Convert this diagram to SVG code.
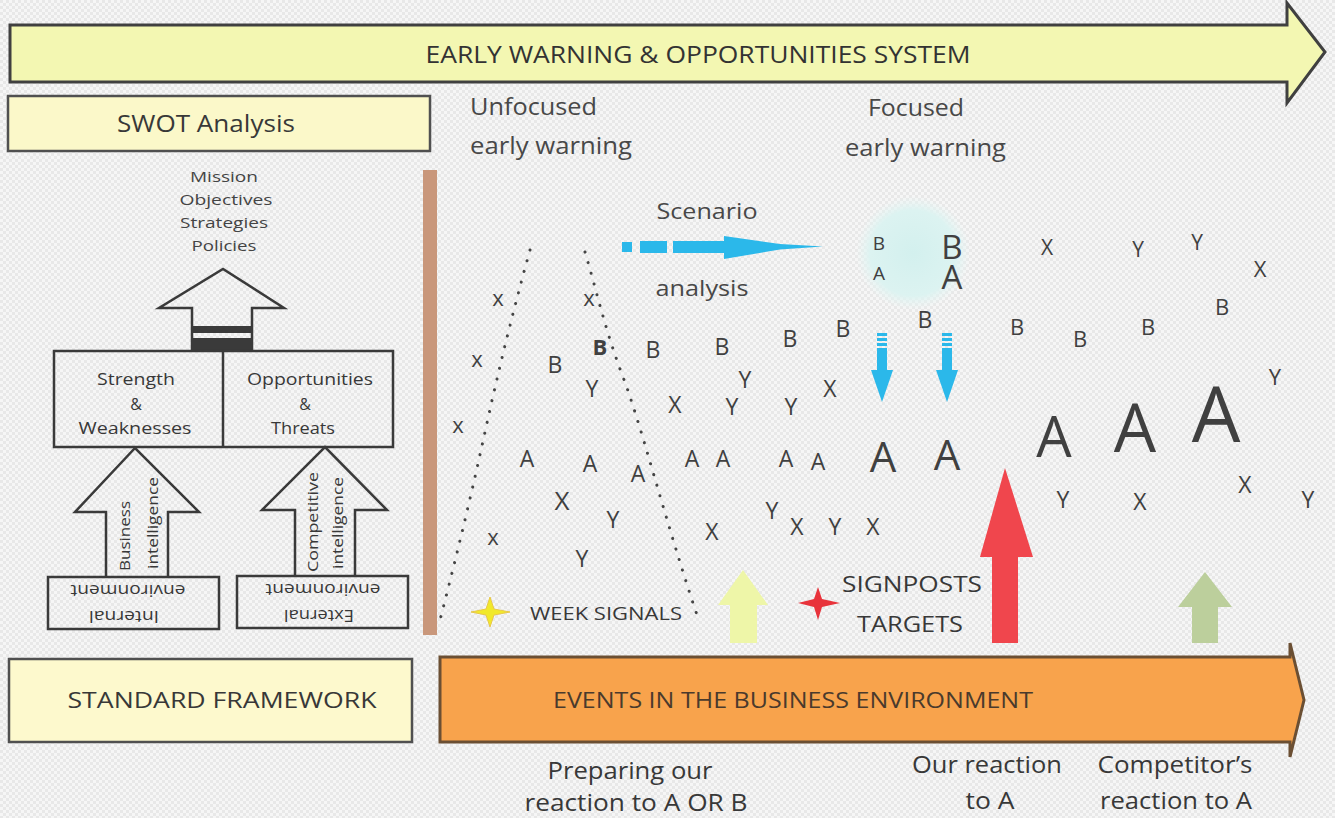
<svg xmlns="http://www.w3.org/2000/svg" width="1335" height="818" viewBox="0 0 1335 818">
<defs>
<pattern id="bg" width="6" height="6" patternUnits="userSpaceOnUse"><rect width="6" height="6" fill="#f6f6f6"/><rect width="3" height="3" fill="#e8e8e8"/><rect x="3" y="3" width="3" height="3" fill="#e8e8e8"/></pattern>
<radialGradient id="glow" cx="0.5" cy="0.5" r="0.5"><stop offset="0" stop-color="#d3f0ee"/><stop offset="0.75" stop-color="#dcf3f1"/><stop offset="1" stop-color="#e6f6f4" stop-opacity="0"/></radialGradient>
<style>
svg{fill:#383838}
text{font-family:"Open Sans","Noto Sans","Liberation Sans",sans-serif}
.c{text-anchor:middle}
.box{fill:#fbf8c9;stroke:#505050;stroke-width:2.5}
.wbox{fill:none;stroke:#3a3a3a;stroke-width:2.5}
.warr{fill:none;stroke:#3a3a3a;stroke-width:2.5;stroke-linejoin:miter}
.lt{text-anchor:middle;fill:#404040}
.dots{fill:none;stroke:#444;stroke-width:3;stroke-linecap:round;stroke-dasharray:0.1 11}
.cy{fill:#2bb8ea}
</style>
</defs>
<rect width="1335" height="818" fill="url(#bg)"/>

<g id="ew-system">
<path d="M10,25 H1287 V3 L1325,52 L1287,103 V82 H10 Z" fill="#f3f7b2" stroke="#404040" stroke-width="3"/>
<text x="698" y="63" class="c" font-size="24" textLength="545" lengthAdjust="spacingAndGlyphs" fill="#333">EARLY WARNING &amp; OPPORTUNITIES SYSTEM</text>
</g>

<g id="swot">
<rect x="8" y="96" width="422" height="55" class="box"/>
<text x="206" y="132" class="c" font-size="23" textLength="178" lengthAdjust="spacingAndGlyphs">SWOT Analysis</text>
</g>

<g id="mission" fill="#444">
<text x="224" y="182" class="c" font-size="15" textLength="68" lengthAdjust="spacingAndGlyphs">Mission</text>
<text x="226" y="205" class="c" font-size="15" textLength="93" lengthAdjust="spacingAndGlyphs">Objectives</text>
<text x="224" y="228" class="c" font-size="15" textLength="88" lengthAdjust="spacingAndGlyphs">Strategies</text>
<text x="224" y="251" class="c" font-size="15" textLength="65" lengthAdjust="spacingAndGlyphs">Policies</text>
</g>

<g id="mission-arrow">
<path d="M192,351 V308 H159 L223,269 L284,308 H252 V351" class="warr"/>
<rect x="193" y="326" width="58" height="7" fill="#3a3a3a"/>
<rect x="193" y="338" width="58" height="12" fill="#3a3a3a"/>
</g>

<g id="sw-ot">
<rect x="54" y="351" width="339" height="96" class="wbox"/>
<line x1="223" y1="351" x2="223" y2="447" stroke="#3a3a3a" stroke-width="2.5"/>
<text x="136" y="385" class="c" font-size="16" textLength="78" lengthAdjust="spacingAndGlyphs">Strength</text>
<text x="136" y="410" class="c" font-size="16">&amp;</text>
<text x="135" y="434" class="c" font-size="16" textLength="113" lengthAdjust="spacingAndGlyphs">Weaknesses</text>
<text x="310" y="385" class="c" font-size="16" textLength="126" lengthAdjust="spacingAndGlyphs">Opportunities</text>
<text x="305" y="410" class="c" font-size="16">&amp;</text>
<text x="303" y="434" class="c" font-size="16" textLength="64" lengthAdjust="spacingAndGlyphs">Threats</text>
</g>

<g id="bi-arrow">
<path d="M106,577 V512 H75 L135,448 L199,512 H168 V577" class="warr"/>
<text transform="translate(130,536) rotate(-90)" class="c" font-size="15" textLength="70" lengthAdjust="spacingAndGlyphs">Business</text>
<text transform="translate(158,523) rotate(-90)" class="c" font-size="15" textLength="92" lengthAdjust="spacingAndGlyphs">intelligence</text>
</g>

<g id="ci-arrow">
<path d="M295,577 V510 H262 L325,447 L387,510 H355 V577" class="warr"/>
<text transform="translate(318,522) rotate(-90)" class="c" font-size="15" textLength="100" lengthAdjust="spacingAndGlyphs">Competitive</text>
<text transform="translate(343,523) rotate(-90)" class="c" font-size="15" textLength="92" lengthAdjust="spacingAndGlyphs">intelligence</text>
</g>

<g id="internal">
<rect x="48" y="577" width="171" height="52" class="wbox"/>
<g transform="rotate(180,128,603)">
<text x="132" y="595" class="c" font-size="16" textLength="70" lengthAdjust="spacingAndGlyphs">Internal</text>
<text x="128" y="621" class="c" font-size="16" textLength="115" lengthAdjust="spacingAndGlyphs">environment</text>
</g>
</g>

<g id="external">
<rect x="237" y="576" width="171" height="52" class="wbox"/>
<g transform="rotate(180,321,602)">
<text x="323" y="594" class="c" font-size="16" textLength="70" lengthAdjust="spacingAndGlyphs">External</text>
<text x="319" y="620" class="c" font-size="16" textLength="115" lengthAdjust="spacingAndGlyphs">environment</text>
</g>
</g>

<rect id="divider" x="423" y="170" width="14" height="465" fill="#c9977b"/>

<g id="headings" fill="#484848">
<text x="470" y="115" font-size="23" textLength="127" lengthAdjust="spacingAndGlyphs">Unfocused</text>
<text x="470" y="154" font-size="23" textLength="162" lengthAdjust="spacingAndGlyphs">early warning</text>
<text x="868" y="116" font-size="23" textLength="96" lengthAdjust="spacingAndGlyphs">Focused</text>
<text x="845" y="156" font-size="23" textLength="161" lengthAdjust="spacingAndGlyphs">early warning</text>
</g>

<g id="connectors">
<path class="dots" d="M530,250 Q505,340 485,432 T440,620"/>
<path class="dots" d="M585,252 C595,285 605,330 623,377 S665,520 697,615"/>
<g id="scenario-arrow">
<rect x="622" y="242" width="10" height="10" class="cy"/>
<rect x="640" y="241" width="27" height="12" class="cy"/>
<rect x="673" y="241" width="56" height="12" class="cy"/>
<path d="M724,236 L780,244 L823,246.5 L780,249.5 L724,259 Z" class="cy"/>
</g>
<path d="M890,240.5 H925 L937,243.5 L925,246.5 H890 Z" class="cy"/>
<path d="M890,267.5 H925 L937,270.5 L925,273.5 H890 Z" class="cy"/>
<g id="down-arrow-1">
<rect x="877" y="333" width="10" height="3" class="cy"/>
<rect x="877" y="338" width="10" height="3" class="cy"/>
<rect x="877" y="343" width="10" height="3" class="cy"/>
<rect x="877" y="348" width="10" height="24" class="cy"/>
<path d="M871,370 H893 L882,402 Z" class="cy"/>
</g>
<g id="down-arrow-2">
<rect x="942" y="333" width="10" height="3" class="cy"/>
<rect x="942" y="338" width="10" height="3" class="cy"/>
<rect x="942" y="343" width="10" height="3" class="cy"/>
<rect x="942" y="348" width="10" height="24" class="cy"/>
<path d="M936,370 H958 L947,402 Z" class="cy"/>
</g>
<path id="yellow-arrow" d="M730,643 V605 H718 L743,570 L768,605 H757 V643 Z" fill="#eef6a8"/>
<path id="red-arrow" d="M992,643 V557 H980 L1005,468 L1033,557 H1018 V643 Z" fill="#f0464d"/>
<path id="green-arrow" d="M1192,643 V607 H1178 L1205,572 L1232,607 H1218 V643 Z" fill="#bccf9c"/>
</g>

<g id="scenario" fill="#484848">
<text x="707" y="219" class="c" font-size="21" textLength="101" lengthAdjust="spacingAndGlyphs">Scenario</text>
<text x="702" y="296" class="c" font-size="21" textLength="93" lengthAdjust="spacingAndGlyphs">analysis</text>
</g>

<g id="focus-circle">
<circle cx="913" cy="253" r="57" fill="url(#glow)"/>
<text x="879" y="250" class="lt" font-size="19">B</text>
<text x="879" y="280" class="lt" font-size="19">A</text>
<text x="952" y="259" class="lt" font-size="33">B</text>
<text x="952" y="289" class="lt" font-size="33">A</text>
</g>

<g id="letters-mid" font-size="23">
<text x="498" y="306" class="lt" font-size="22">x</text>
<text x="589" y="306" class="lt" font-size="22">x</text>
<text x="477" y="367" class="lt" font-size="22">x</text>
<text x="458" y="433" class="lt" font-size="22">x</text>
<text x="555" y="373" class="lt">B</text>
<text x="600" y="355" class="lt" font-weight="bold" font-size="22">B</text>
<text x="653" y="358" class="lt">B</text>
<text x="722" y="355" class="lt">B</text>
<text x="790" y="347" class="lt">B</text>
<text x="843" y="337" class="lt">B</text>
<text x="925" y="328" class="lt">B</text>
<text x="592" y="397" class="lt">Y</text>
<text x="745" y="388" class="lt">Y</text>
<text x="732" y="415" class="lt">Y</text>
<text x="791" y="415" class="lt">Y</text>
<text x="830" y="397" class="lt">X</text>
<text x="675" y="413" class="lt">X</text>
<text x="527" y="467" class="lt">A</text>
<text x="590" y="472" class="lt">A</text>
<text x="638" y="482" class="lt">A</text>
<text x="692" y="467" class="lt">A</text>
<text x="723" y="467" class="lt">A</text>
<text x="786" y="467" class="lt">A</text>
<text x="818" y="470" class="lt">A</text>
<text x="883" y="472" class="lt" font-size="42">A</text>
<text x="947" y="470" class="lt" font-size="42">A</text>
<text x="562" y="510" class="lt" font-size="26">X</text>
<text x="613" y="528" class="lt">Y</text>
<text x="493" y="545" class="lt" font-size="22">x</text>
<text x="582" y="567" class="lt">Y</text>
<text x="712" y="540" class="lt">X</text>
<text x="772" y="519" class="lt">Y</text>
<text x="797" y="535" class="lt">X</text>
<text x="835" y="535" class="lt">Y</text>
<text x="873" y="535" class="lt">X</text>
</g>

<g id="letters-right" font-size="23">
<text x="1047" y="255" class="lt" font-size="21">X</text>
<text x="1138" y="257" class="lt" font-size="21">Y</text>
<text x="1197" y="250" class="lt" font-size="21">Y</text>
<text x="1260" y="277" class="lt" font-size="22">X</text>
<text x="1017" y="335" class="lt" font-size="22">B</text>
<text x="1080" y="347" class="lt" font-size="22">B</text>
<text x="1148" y="335" class="lt" font-size="22">B</text>
<text x="1222" y="315" class="lt" font-size="22">B</text>
<text x="1275" y="385" class="lt" font-size="22">Y</text>
<text x="1054" y="457" class="lt" font-size="56">A</text>
<text x="1135" y="452" class="lt" font-size="67">A</text>
<text x="1216" y="442" class="lt" font-size="77">A</text>
<text x="1063" y="508" class="lt">Y</text>
<text x="1140" y="510" class="lt">X</text>
<text x="1245" y="493" class="lt">X</text>
<text x="1308" y="508" class="lt">Y</text>
</g>

<g id="week-signals">
<path d="M471,612 L486,609 L490,597 L494,609 L510,612 L494,615 L490,627 L486,615 Z" fill="#f1e92a" stroke="#e8c84a" stroke-width="1"/>
<text x="530" y="620" font-size="19" textLength="152" lengthAdjust="spacingAndGlyphs">WEEK SIGNALS</text>
</g>

<g id="signposts">
<path d="M798,603 L814,599 L818,587 L822,599 L840,603 L822,607 L818,620 L814,607 Z" fill="#e8333b"/>
<text x="842" y="592" font-size="22" textLength="140" lengthAdjust="spacingAndGlyphs">SIGNPOSTS</text>
<text x="857" y="632" font-size="22" textLength="106" lengthAdjust="spacingAndGlyphs">TARGETS</text>
</g>

<g id="standard-framework">
<rect x="9" y="659" width="403" height="83" class="box" style="fill:#fdf9cd"/>
<text x="222" y="708" class="c" font-size="22" textLength="309" lengthAdjust="spacingAndGlyphs">STANDARD FRAMEWORK</text>
</g>

<g id="events">
<path d="M440,657 H1290 V643 L1304,700 L1290,757 V742 H440 Z" fill="#f8a34c" stroke="#6b4f33" stroke-width="3"/>
<text x="793" y="708" class="c" font-size="22" textLength="480" lengthAdjust="spacingAndGlyphs" fill="#4a3a2c">EVENTS IN THE BUSINESS ENVIRONMENT</text>
</g>

<g id="bottom-labels">
<text x="630" y="779" class="c" font-size="23" textLength="165" lengthAdjust="spacingAndGlyphs">Preparing our</text>
<text x="636" y="811" class="c" font-size="23" textLength="223" lengthAdjust="spacingAndGlyphs">reaction to A OR B</text>
<text x="987" y="773" class="c" font-size="23" textLength="150" lengthAdjust="spacingAndGlyphs">Our reaction</text>
<text x="990" y="809" class="c" font-size="23" textLength="49" lengthAdjust="spacingAndGlyphs">to A</text>
<text x="1175" y="773" class="c" font-size="23" textLength="155" lengthAdjust="spacingAndGlyphs">Competitor’s</text>
<text x="1176" y="809" class="c" font-size="23" textLength="152" lengthAdjust="spacingAndGlyphs">reaction to A</text>
</g>
</svg>
